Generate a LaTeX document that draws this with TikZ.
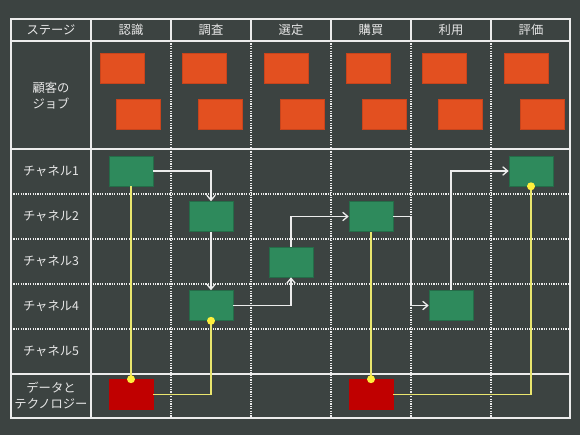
\documentclass[tikz,border=0pt]{standalone}
\usepackage{fontspec}
\setmainfont{Noto Sans CJK JP}
\usetikzlibrary{arrows.meta}
\definecolor{bg}{RGB}{60,67,65}
\definecolor{gridc}{RGB}{236,236,236}
\definecolor{jobc}{RGB}{227,80,32}
\definecolor{jobd}{RGB}{200,68,28}
\definecolor{chc}{RGB}{46,138,92}
\definecolor{chd}{RGB}{36,108,72}
\definecolor{datac}{RGB}{192,0,0}
\definecolor{linec}{RGB}{234,230,110}
\definecolor{dotc}{RGB}{255,240,60}
\definecolor{txt}{RGB}{232,232,232}
\begin{document}
\begin{tikzpicture}[x=1pt,y=-1pt,
  solidline/.style={gridc,line width=1.3pt},
  dotline/.style={gridc,line width=1.2pt,dash pattern=on 1.2pt off 1.2pt},
  boxbase/.style={minimum width=44pt,minimum height=30pt,inner sep=0pt,line width=0.6pt},
  jobbox/.style={boxbase,fill=jobc,draw=jobd},
  chbox/.style={boxbase,fill=chc,draw=chd},
  databox/.style={boxbase,fill=datac,draw=datac},
  lbl/.style={text=txt,font=\fontsize{12.3}{15.5}\selectfont,align=center,inner sep=0pt},
  conn/.style={gridc,line width=1.3pt,-{Straight Barb[length=5pt,width=8.5pt]}},
  dataline/.style={linec,line width=1.5pt},
  ]
\fill[bg] (0,0) rectangle (580,435);
% grid
\foreach \y in {194,239,284,329} \draw[dotline] (11,\y) -- (570,\y);
\foreach \x in {171,251,331,411,491} {
  \draw[dotline] (\x,41) -- (\x,418);
  \draw[solidline] (\x,19) -- (\x,41);
}
\draw[solidline] (91,19) -- (91,418);
\foreach \y in {41,149,374} \draw[solidline] (11,\y) -- (570,\y);
\draw[solidline] (11,19) rectangle (570,418);
% header
\node[lbl] (hs) at (51,30) {ステージ};
\node[lbl] (h1) at (131,30) {認識};
\node[lbl] (h2) at (211,30) {調査};
\node[lbl] (h3) at (291,30) {選定};
\node[lbl] (h4) at (371,30) {購買};
\node[lbl] (h5) at (451,30) {利用};
\node[lbl] (h6) at (531,30) {評価};
% row labels
\node[lbl] (rj) at (51,95.5) {顧客の\\ジョブ};
\node[lbl] (rc1) at (51,171.5) {チャネル1};
\node[lbl] (rc2) at (51,216.5) {チャネル2};
\node[lbl] (rc3) at (51,261.5) {チャネル3};
\node[lbl] (rc4) at (51,306.5) {チャネル4};
\node[lbl] (rc5) at (51,351.5) {チャネル5};
\node[lbl,font=\fontsize{12.3}{16}\selectfont] (rd) at (51,395.5) {データと\\テクノロジー};
% job boxes
\node[jobbox] (j1a) at (122,68) {};
\node[jobbox] (j1b) at (138,114) {};
\node[jobbox] (j2a) at (204.5,68) {};
\node[jobbox] (j2b) at (220.5,114) {};
\node[jobbox] (j3a) at (286,68) {};
\node[jobbox] (j3b) at (302,114) {};
\node[jobbox] (j4a) at (368.5,68) {};
\node[jobbox] (j4b) at (384.5,114) {};
\node[jobbox] (j5a) at (444.5,68) {};
\node[jobbox] (j5b) at (460,114) {};
\node[jobbox] (j6a) at (526,68) {};
\node[jobbox] (j6b) at (542.5,114) {};
% channel boxes
\node[chbox] (g1) at (131,171) {};
\node[chbox] (g2) at (211,216.5) {};
\node[chbox] (g3) at (211,305.5) {};
\node[chbox] (g4) at (291,262) {};
\node[chbox] (g5) at (371,216.5) {};
\node[chbox] (g6) at (451,305.5) {};
\node[chbox] (g7) at (531,171) {};
% data boxes
\node[databox] (r1) at (131,394.5) {};
\node[databox] (r2) at (371,394.5) {};
\coordinate (bend) at (411,0);
% white connectors
\draw[conn] (g1.east) -| (g2.north);
\draw[conn] (g2.south) -- (g3.north);
\draw[conn] (g3.east) -| (g4.south);
\draw[conn] (g4.north) |- (g5.west);
\draw[conn] (g5.east) -| (bend |- g6.west) -- (g6.west);
\draw[conn] (g6.north) |- (g7.west);
% data lines
\draw[dataline] (g1.south) -- (r1.north);
\draw[dataline] (r1.east) -| (g3.south);
\draw[dataline] (g5.south) -- (r2.north);
\draw[dataline] (r2.east) -| (g7.south);
\fill[dotc] (r1.north) circle (4pt);
\fill[dotc] (g3.south) circle (4pt);
\fill[dotc] (r2.north) circle (4pt);
\fill[dotc] (g7.south) circle (4pt);
\end{tikzpicture}
\end{document}
